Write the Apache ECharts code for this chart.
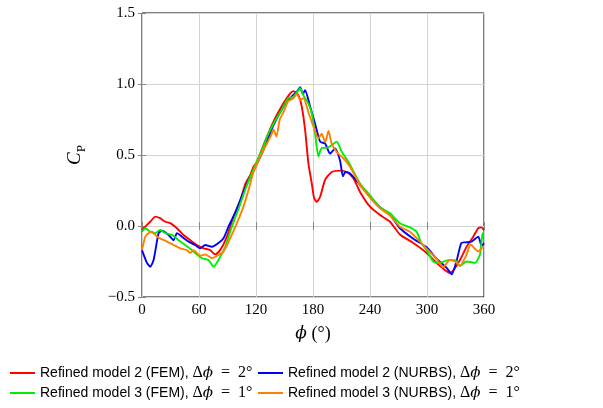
<!DOCTYPE html>
<html>
<head>
<meta charset="utf-8">
<script src="https://cdn.jsdelivr.net/npm/echarts@6/dist/echarts.min.js"></script>
<style>html,body{margin:0;padding:0;background:#fff;}#c{width:603px;height:408px;}</style>
</head>
<body>
<div id="c"></div>
<script>
var xTicks = [0, 60, 120, 180, 240, 300, 360];
var yTicks = [-0.5, 0.0, 0.5, 1.0, 1.5];
var seriesNames = [
  'Refined model 2 (FEM), Δϕ = 2°',
  'Refined model 2 (NURBS), Δϕ = 2°',
  'Refined model 3 (FEM), Δϕ = 1°',
  'Refined model 3 (NURBS), Δϕ = 1°'
];
var redData = [[0,-0.03],[1.7,-0.016],[8.7,0.03],[14,0.066],[19,0.055],[24.5,0.03],[29.8,0.02],[36.8,-0.016],[43.7,-0.063],[50.8,-0.1],[57.8,-0.134],[64.8,-0.157],[71.8,-0.17],[77,-0.2],[82.3,-0.17],[89.4,-0.075],[96.3,0.066],[103.4,0.18],[109,0.3],[114,0.36],[117.4,0.418],[121,0.45],[127.9,0.57],[138.4,0.735],[148.9,0.864],[156,0.934],[159.4,0.95],[164.7,0.92],[168.2,0.84],[171.7,0.676],[175.2,0.44],[178.7,0.3],[181.2,0.195],[184,0.17],[187.5,0.206],[192.7,0.324],[199.7,0.38],[208.5,0.39],[215.5,0.38],[222.5,0.336],[229.5,0.24],[240,0.136],[250.6,0.077],[261,0.03],[271.5,-0.06],[285.6,-0.12],[299.6,-0.19],[310,-0.26],[317,-0.3],[324,-0.33],[328,-0.31],[334.7,-0.24],[341.7,-0.146],[348.7,-0.075],[354,-0.015],[357,-0.01],[360,-0.03]];
var blueData = [[0,-0.17],[5.2,-0.26],[8.7,-0.287],[12.2,-0.24],[17.5,-0.05],[21,-0.033],[28,-0.063],[33.2,-0.1],[36.8,-0.05],[42,-0.075],[49,-0.11],[56,-0.134],[61.3,-0.157],[66.5,-0.134],[73.6,-0.146],[80.5,-0.12],[85.8,-0.087],[91,-0.005],[98,0.09],[103.4,0.18],[110,0.29],[117.4,0.39],[127.9,0.535],[138.4,0.71],[148.9,0.84],[156,0.9],[163,0.946],[166.5,0.977],[169.3,0.93],[171.7,0.956],[177,0.84],[182.2,0.72],[187.5,0.594],[192.8,0.58],[198,0.51],[203.3,0.547],[208.5,0.46],[211.5,0.35],[214,0.38],[219,0.37],[229.5,0.29],[240,0.206],[250.6,0.13],[261,0.08],[271.5,-0.016],[285.6,-0.09],[299.6,-0.15],[310,-0.23],[320.7,-0.295],[326,-0.34],[331,-0.25],[336,-0.12],[340,-0.115],[347,-0.11],[354,-0.075],[357.5,-0.14],[360,-0.12]];
var greenData = [[0,-0.04],[3.5,-0.016],[8.7,-0.04],[14,-0.05],[19,-0.028],[24.5,-0.05],[31.5,-0.063],[38.5,-0.1],[45.5,-0.134],[52.6,-0.17],[57.8,-0.2],[63,-0.227],[70,-0.24],[75.3,-0.287],[80.5,-0.24],[87.6,-0.146],[94.6,-0.005],[101.6,0.12],[110,0.28],[117.4,0.4],[127.9,0.56],[131,0.62],[138.4,0.72],[148.9,0.84],[154,0.9],[159.4,0.91],[166.5,0.97],[170,0.92],[175.2,0.86],[178.7,0.794],[182.2,0.65],[185.7,0.49],[189.2,0.55],[194.5,0.55],[199.7,0.57],[205,0.594],[210.2,0.523],[217.2,0.453],[229.5,0.3],[240,0.215],[250.6,0.13],[261,0.09],[271.5,0.02],[282,-0.01],[289,-0.04],[294,-0.12],[299.6,-0.17],[306.6,-0.25],[313.7,-0.26],[322,-0.24],[329.4,-0.24],[334.7,-0.28],[341.7,-0.25],[350.5,-0.26],[355.8,-0.2],[358.6,-0.05],[360,-0.05]];
var orangeData = [[0,-0.17],[3.5,-0.075],[7,-0.05],[10.5,-0.04],[14,-0.063],[19,-0.087],[26.3,-0.11],[33.2,-0.134],[40.3,-0.157],[47.3,-0.17],[50.8,-0.19],[54.3,-0.17],[61.3,-0.21],[66.5,-0.2],[73.6,-0.227],[78.9,-0.21],[85.8,-0.18],[92.8,-0.087],[99.9,0.02],[106.8,0.136],[112,0.25],[117.4,0.38],[127.9,0.535],[136,0.64],[138.4,0.68],[141.5,0.63],[145,0.75],[148.9,0.8],[154,0.88],[159.4,0.9],[163,0.93],[166.5,0.89],[170,0.9],[175.2,0.8],[180.5,0.7],[185.7,0.617],[189.2,0.65],[192.8,0.59],[196.3,0.67],[199.7,0.58],[205,0.52],[212,0.477],[219,0.418],[229.5,0.29],[240,0.2],[250.6,0.125],[261,0.075],[271.5,-0.005],[282,-0.04],[292.6,-0.11],[301,-0.17],[310,-0.23],[317,-0.29],[324,-0.24],[329.4,-0.25],[334.7,-0.28],[341.7,-0.2],[345.9,-0.13],[350.5,-0.16],[354,-0.18],[359,-0.15],[360,-0.15]];
var colors = ['#ff0000', '#0000ff', '#00ee00', '#ff8000'];
var allData = [redData, blueData, greenData, orangeData];

var serif = '"DejaVu Serif", "Liberation Serif", serif';
var serif2 = '"Liberation Serif", "DejaVu Serif", serif';
var sans = '"Liberation Sans", Arial, sans-serif';

function legendFmt(name) {
  var parts = name.split(', ');
  var m = parts[1].replace('Δϕ = ', '');
  return '{t|' + parts[0] + ', }{d|Δ}{f|ϕ}{m|  =  ' + m + '}';
}
var legendRich = {
  t: {fontFamily: sans, fontSize: 14, color: '#000'},
  d: {fontFamily: serif2, fontSize: 16, color: '#000'},
  f: {fontFamily: serif, fontSize: 15, fontStyle: 'italic', color: '#000'},
  m: {fontFamily: serif2, fontSize: 16, color: '#000'}
};
var legendPos = [[10, 365], [258, 365], [10, 385], [258, 385]];
var legends = seriesNames.map(function (n, i) {
  return {
    data: [n], left: legendPos[i][0], top: legendPos[i][1], itemWidth: 25, itemHeight: 2,
    icon: 'rect', itemGap: 0, padding: 0, selectedMode: false,
    formatter: legendFmt, textStyle: {rich: legendRich}
  };
});

var chart = echarts.init(document.getElementById('c'), null, {renderer: 'canvas'});
chart.setOption({
  animation: false,
  backgroundColor: '#fff',
  grid: {left: 142, right: 119, top: 13, bottom: 111, show: true, borderColor: '#000', borderWidth: 1, backgroundColor: 'transparent'},
  legend: legends,
  xAxis: [{
    type: 'value', min: xTicks[0], max: xTicks[xTicks.length - 1], interval: 60,
    axisLine: {show: false},
    axisTick: {show: true, inside: true, length: 4, lineStyle: {color: '#888'}},
    splitLine: {show: true, lineStyle: {color: '#d3d3d3', width: 1}},
    axisLabel: {color: '#000', fontFamily: serif2, fontSize: 15, margin: 6},
    name: '{f|ϕ}{n| (°)}', nameLocation: 'middle', nameGap: 28,
    nameTextStyle: {rich: {f: {fontFamily: serif, fontSize: 17, fontStyle: 'italic', color: '#000'}, n: {fontFamily: serif2, fontSize: 18, color: '#000'}}}
  }, {
    type: 'value', position: 'top', min: xTicks[0], max: xTicks[xTicks.length - 1], interval: 60,
    axisLine: {show: false}, axisLabel: {show: false}, splitLine: {show: false},
    axisTick: {show: true, inside: true, length: 4, lineStyle: {color: '#888'}}
  }],
  yAxis: [{
    type: 'value', min: yTicks[0], max: yTicks[yTicks.length - 1], interval: 0.5,
    axisLine: {show: false},
    axisTick: {show: true, inside: true, length: 4, lineStyle: {color: '#888'}},
    splitLine: {show: true, lineStyle: {color: '#d3d3d3', width: 1}},
    axisLabel: {color: '#000', fontFamily: serif2, fontSize: 15, margin: 7,
      formatter: function (v) { var s = v.toFixed(1); return v < 0 ? '\u2212' + s.slice(1) : s; }},
    name: '{c|C}{p|P}', nameLocation: 'middle', nameGap: 58, nameRotate: 90,
    nameTextStyle: {rich: {
      c: {fontFamily: serif2, fontSize: 19, fontStyle: 'italic', color: '#000', verticalAlign: 'bottom'},
      p: {fontFamily: serif2, fontSize: 13, color: '#000', verticalAlign: 'bottom', padding: [0, 0, -4, 0]}
    }}
  }, {
    type: 'value', position: 'right', min: yTicks[0], max: yTicks[yTicks.length - 1], interval: 0.5,
    axisLine: {show: false}, axisLabel: {show: false}, splitLine: {show: false},
    axisTick: {show: true, inside: true, length: 4, lineStyle: {color: '#888'}}
  }],
  series: seriesNames.map(function (n, i) {
    return {
      name: n, type: 'line', data: allData[i], symbol: 'none', smooth: 0.2,
      lineStyle: {color: colors[i], width: 1.9}, itemStyle: {color: colors[i]},
      z: 2 + i
    };
  })
});
</script>
</body>
</html>
